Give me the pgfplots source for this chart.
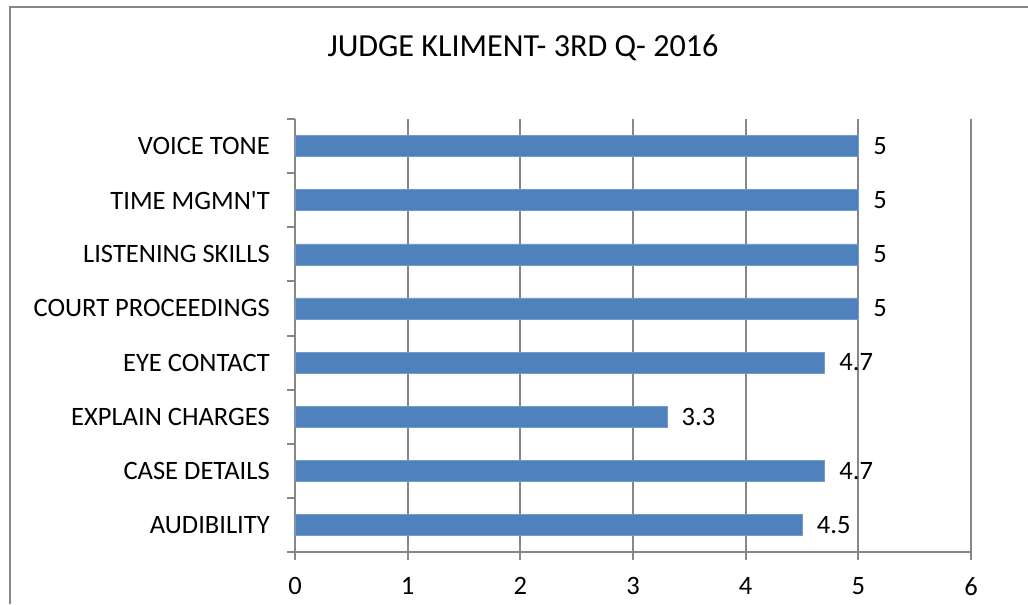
\documentclass[border=0pt]{standalone}
\usepackage{pgfplots}
\pgfplotsset{compat=1.18}
\usepackage{fontspec}
\setmainfont{Carlito}
\definecolor{barblue}{HTML}{4F81BD}
\definecolor{axgray}{HTML}{868686}
\begin{document}
\begin{tikzpicture}[x=0.75pt,y=0.75pt]
\useasboundingbox (0,0) rectangle (1028,604);
\draw[axgray, line width=1.5pt] (9.5,0) -- (9.5,596.5) -- (1028,596.5);
\node[font=\fontsize{24.1}{28}\selectfont, inner sep=0pt] at (523,556) {JUDGE KLIMENT- 3RD Q- 2016};
\begin{axis}[
  at={(221.25pt,39pt)}, anchor=south west,
  scale only axis,
  width=507pt, height=324.75pt,
  xmin=0, xmax=6, ymin=-0.5, ymax=7.5,
  xtick={0,...,6},
  ytick={0,...,7},
  yticklabels={AUDIBILITY, CASE DETAILS, EXPLAIN CHARGES, EYE CONTACT, COURT PROCEEDINGS, LISTENING SKILLS, TIME MGMN\textquotesingle T, VOICE TONE},
  minor ytick={-0.5,0.5,...,7.5},
  axis x line*=bottom, axis y line*=left,
  axis line style={axgray, line width=1.5pt, -},
  tick align=outside,
  major tick length=6pt,
  minor tick length=6pt,
  every major y tick/.style={draw=none},
  every minor y tick/.style={draw=axgray, line width=1.5pt},
  xtick style={axgray, line width=1.5pt},
  xmajorgrids, major grid style={axgray, line width=1.5pt},
  tick label style={font=\fontsize{19.9}{24}\selectfont},
  /pgf/number format/assume math mode=true,
  yticklabel style={inner sep=0pt, anchor=east, xshift=-12.75pt},
  xticklabel style={inner sep=0pt, anchor=north, yshift=-13pt},
  xbar, bar width=15.75pt, bar shift=0pt,
  nodes near coords,
  nodes near coords style={font=\fontsize{19.9}{24}\selectfont, anchor=west, inner sep=0pt, xshift=11pt, black},
  clip=false,
]
\addplot[fill=barblue, draw=barblue!80!white] coordinates {
(4.5,0) (4.7,1) (3.3,2) (4.7,3) (5,4) (5,5) (5,6) (5,7)
};
\end{axis}
\end{tikzpicture}
\end{document}
